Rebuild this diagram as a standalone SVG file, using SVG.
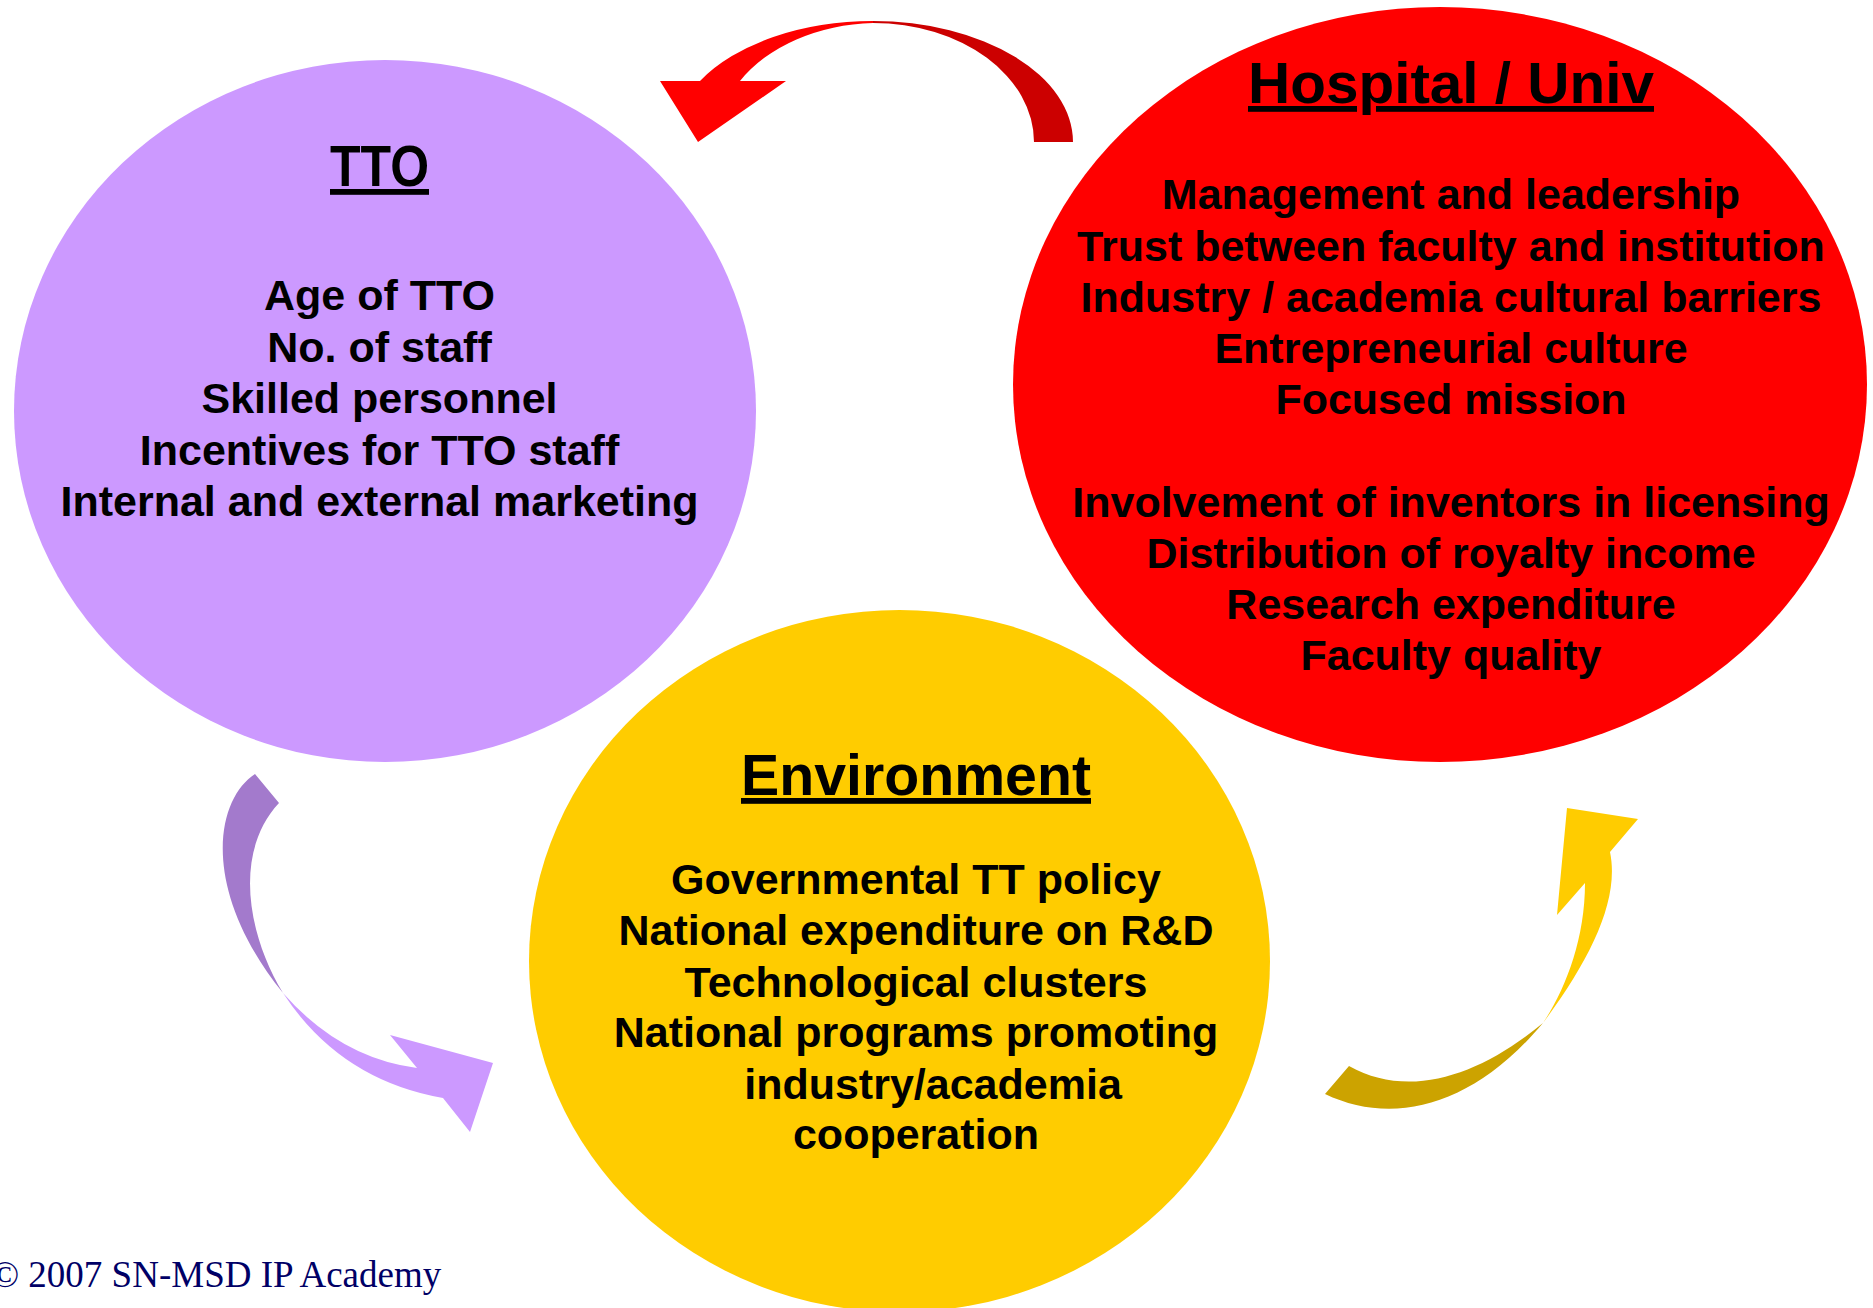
<svg xmlns="http://www.w3.org/2000/svg" width="1873" height="1308" viewBox="0 0 1873 1308">
<style>
.title{font-family:"Liberation Sans",Arial,sans-serif;font-weight:bold;font-size:58px;fill:#000;text-anchor:middle;text-decoration:underline}
.body{font-family:"Liberation Sans",Arial,sans-serif;font-weight:bold;font-size:43px;fill:#000;text-anchor:middle}
.copy{font-family:"Liberation Serif","Times New Roman",serif;font-size:37px;fill:#000066}
</style>
<rect width="1873" height="1308" fill="#fff"/>
<g id="tto">
<ellipse cx="385" cy="411" rx="371" ry="351" fill="#CC99FF"/>
<text class="title" x="379.5" y="186" textLength="99" lengthAdjust="spacingAndGlyphs">TTO</text>
<text class="body" x="379.5" y="310">Age of TTO</text>
<text class="body" x="379.5" y="361.5">No. of staff</text>
<text class="body" x="379.5" y="413">Skilled personnel</text>
<text class="body" x="379.5" y="464.5">Incentives for TTO staff</text>
<text class="body" x="379.5" y="516">Internal and external marketing</text>
</g>
<g id="hospital">
<ellipse cx="1440" cy="384.5" rx="427" ry="377.5" fill="#FF0000"/>
<text class="title" x="1451" y="103" textLength="406" lengthAdjust="spacingAndGlyphs">Hospital / Univ</text>
<text class="body" x="1451" y="209">Management and leadership</text>
<text class="body" x="1451" y="260.5">Trust between faculty and institution</text>
<text class="body" x="1451" y="312">Industry / academia cultural barriers</text>
<text class="body" x="1451" y="363">Entrepreneurial culture</text>
<text class="body" x="1451" y="414">Focused mission</text>
<text class="body" x="1451" y="517">Involvement of inventors in licensing</text>
<text class="body" x="1451" y="568">Distribution of royalty income</text>
<text class="body" x="1451" y="619">Research expenditure</text>
<text class="body" x="1451" y="670">Faculty quality</text>
</g>
<g id="environment">
<ellipse cx="899.5" cy="961" rx="370.5" ry="351" fill="#FFCC00"/>
<text class="title" x="916" y="795" textLength="350" lengthAdjust="spacingAndGlyphs">Environment</text>
<text class="body" x="916" y="894">Governmental TT policy</text>
<text class="body" x="916" y="945">National expenditure on R&amp;D</text>
<text class="body" x="916" y="997">Technological clusters</text>
<text class="body" x="916" y="1047">National programs promoting</text>
<text class="body" x="933" y="1099">industry/academia</text>
<text class="body" x="916" y="1149">cooperation</text>
</g>
<g id="connectors">
<g id="arrow-hospital-to-tto">
<path d="M 873,21 A 200,121 0 0 1 1073,142 L 1034,142 A 161,119 0 0 0 873,23 Z" fill="#CC0000"/>
<path d="M 873,21 A 200,121 0 0 0 700,81 L 660,81 L 698,142 L 786,81 L 740,81 A 161,119 0 0 1 873,23 Z" fill="#FF0000"/>
</g>
<g id="arrow-tto-to-environment">
<path d="M 255,774 C 215,800 200,890 283,993 C 245,930 235,850 279,803 Z" fill="#A37ACC"/>
<path d="M 283,993 Q 340,1058 417,1068 L 390,1035 L 493,1063 L 470,1132 L 443,1098 Q 340,1080 283,993 Z" fill="#CC99FF"/>
</g>
<g id="arrow-environment-to-hospital">
<path d="M 1325,1094 C 1390,1125 1470,1110 1543,1023 C 1480,1075 1410,1100 1349,1066 Z" fill="#CCA300"/>
<path d="M 1543,1023 C 1590,960 1620,900 1610,852 L 1638,819 L 1567,808 L 1557,915 L 1585,883 C 1585,940 1565,990 1543,1023 Z" fill="#FFCC00"/>
</g>
</g>
<text class="copy" x="-9" y="1287">© 2007 SN-MSD IP Academy</text>
</svg>
